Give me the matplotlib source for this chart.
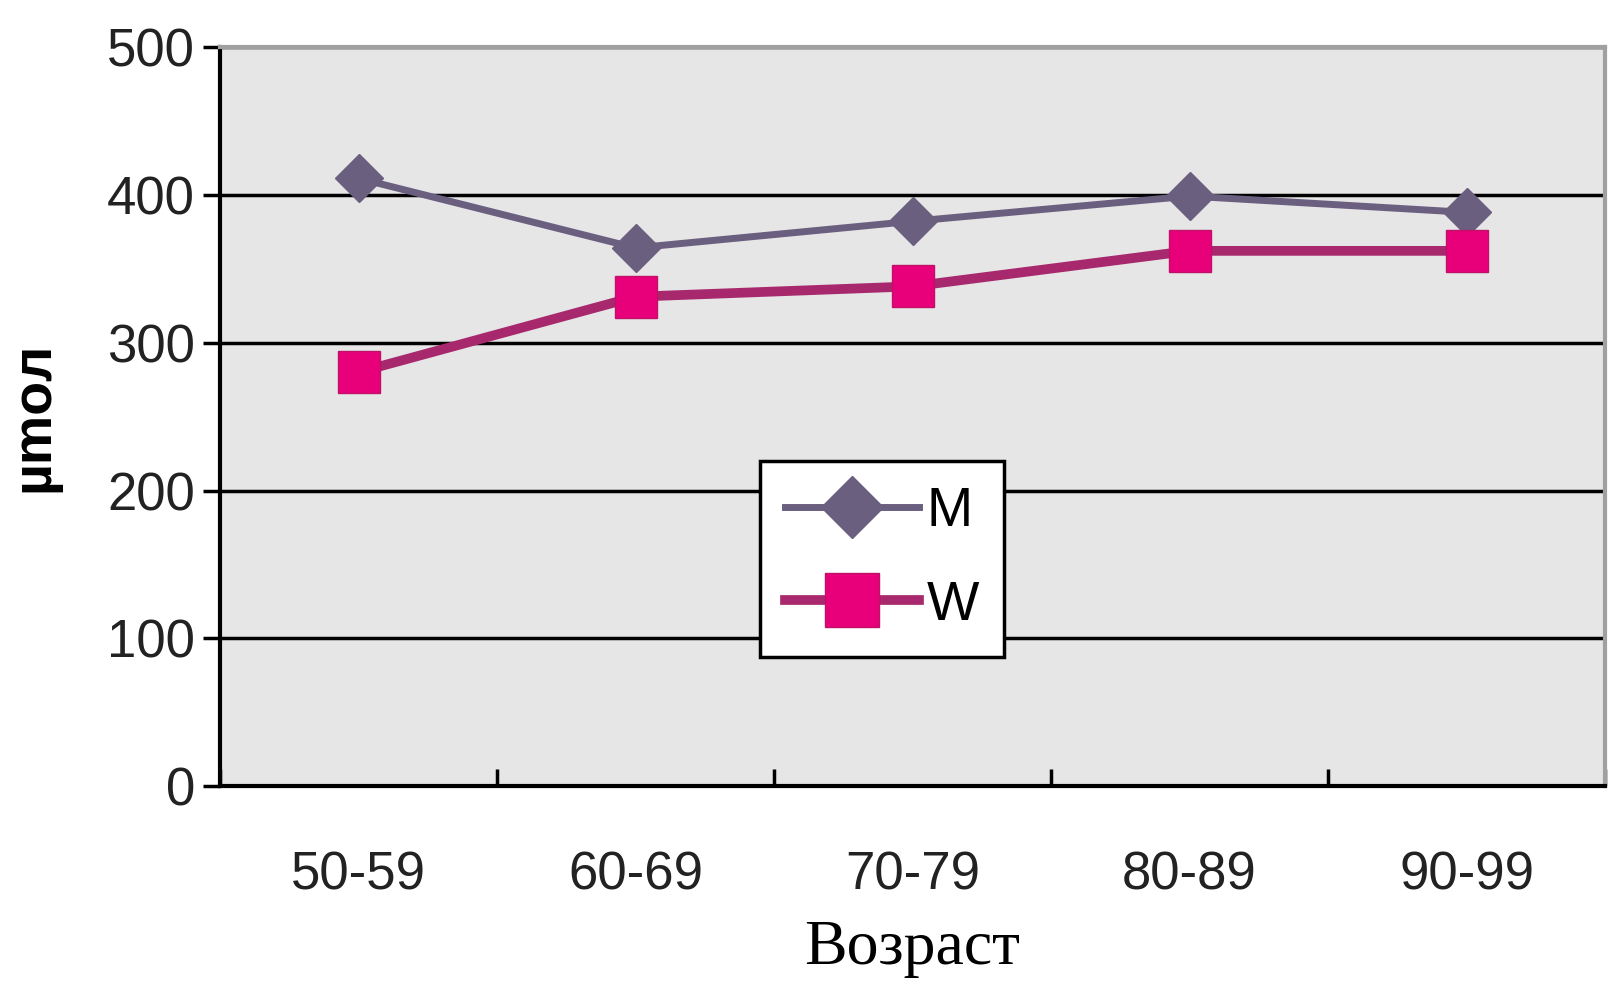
import matplotlib.pyplot as plt
import numpy as np

ages = ["50-59", "60-69", "70-79", "80-89", "90-99"]
men = [411, 364, 382, 399, 388]
women = [280, 331, 338, 362, 362]
yticks = [0, 100, 200, 300, 400, 500]

plt.rcParams['font.family'] = ['Liberation Sans', 'DejaVu Sans']

fig = plt.figure(figsize=(16.18, 9.93), dpi=100)
ax = fig.add_axes([0.136, 0.208, 0.856, 0.745])
ax.set_facecolor('#e6e6e6')

x = np.arange(len(ages))
ax.plot(x, men, color='#6b5f80', lw=5, marker='D', ms=24, mfc='#6b5f80', mec='#6b5f80', label='M', zorder=3)
ax.plot(x, women, color='#a8286e', lw=7, marker='s', ms=30, mfc='#e8007a', mec='#c0106a', label='W', zorder=4)

ax.set_xlim(-0.5, len(ages) - 0.5)
ax.set_ylim(0, 500)
ax.set_yticks(yticks)
ax.set_yticklabels([str(v) for v in yticks], fontsize=38)
ax.set_xticks(x)
ax.set_xticklabels(ages, fontsize=38)
ax.set_xticks(np.arange(-0.5, len(ages)), minor=True)
ax.tick_params(axis='x', which='major', length=0, pad=46)
ax.tick_params(axis='x', which='minor', length=12, width=2.5, direction='in')
ax.tick_params(axis='y', length=12, width=2.5, pad=6)
for t in ax.get_xticklabels() + ax.get_yticklabels():
    t.set_color('#222222')

ax.grid(axis='y', color='black', lw=2.5)
ax.set_axisbelow(True)
ax.spines['left'].set_linewidth(3)
ax.spines['bottom'].set_linewidth(3)
ax.spines['top'].set_color('#a0a0a0')
ax.spines['right'].set_color('#a0a0a0')
ax.spines['top'].set_linewidth(3)
ax.spines['right'].set_linewidth(3)

ax.set_xlabel('Возраст', fontsize=46, family=['Liberation Serif', 'DejaVu Serif'], labelpad=14)
ax.set_ylabel('µmoл', fontsize=40, fontweight='bold', labelpad=34)

leg = ax.legend(loc='upper left', bbox_to_anchor=(0.39, 0.44), borderaxespad=0, fontsize=40,
                frameon=True, fancybox=False, edgecolor='black', framealpha=1, handlelength=2.4,
                handletextpad=0.15, labelspacing=0.75, borderpad=0.45, markerscale=1.3)
leg.get_frame().set_linewidth(2.5)
leg.get_frame().set_facecolor('white')

fig.savefig('out.png', dpi=100, facecolor='white')
